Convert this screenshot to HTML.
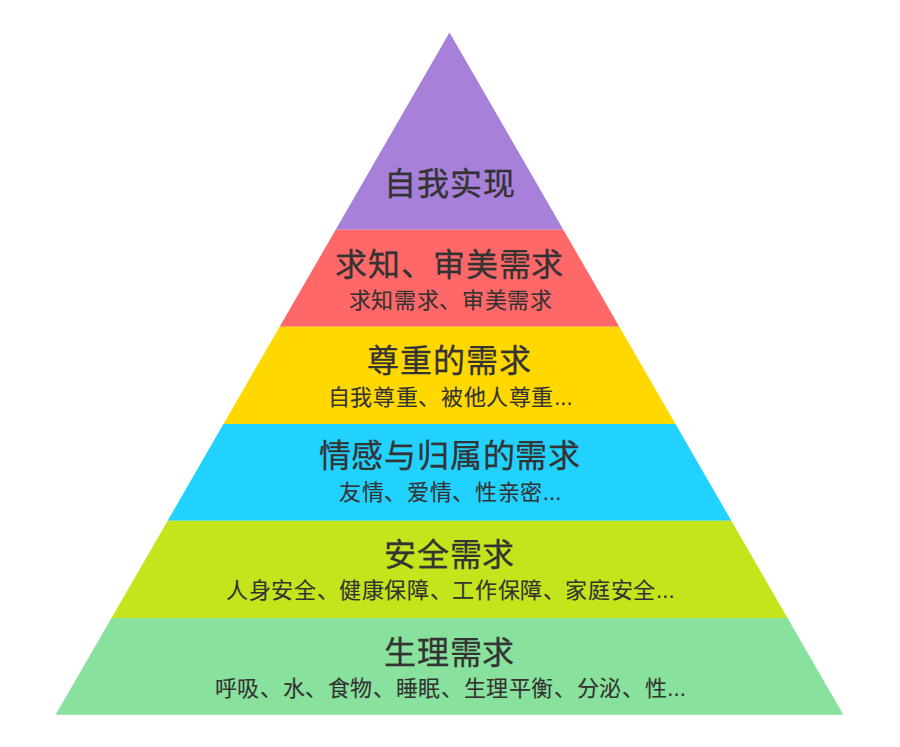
<!DOCTYPE html>
<html lang="zh-CN">
<head>
<meta charset="utf-8">
<style>
html,body{margin:0;padding:0;background:#fff;width:900px;height:747px;overflow:hidden;}
body{position:relative;font-family:"Liberation Sans",sans-serif;color:#333;-webkit-text-stroke:0.35px #333;}
svg{position:absolute;left:0;top:0;}
.t{position:absolute;left:0;width:900px;text-align:center;white-space:nowrap;line-height:1;}
.h{font-size:32px;-webkit-text-stroke:0.3px #333;}
.s{font-size:22px;-webkit-text-stroke:0.12px #333;}
.d{letter-spacing:0.1px;}
</style>
</head>
<body>
<svg width="900" height="747" viewBox="0 0 900 747">
  <polygon points="449.5,32.5 563.35,229.7 335.65,229.7" fill="#a680d9"/>
  <polygon points="335.65,229.7 563.35,229.7 619.36,326.7 279.64,326.7" fill="#ff6868"/>
  <polygon points="279.64,326.7 619.36,326.7 675.53,424 223.47,424" fill="#ffd800"/>
  <polygon points="223.47,424 675.53,424 731.36,520.7 167.64,520.7" fill="#22d2fe"/>
  <polygon points="167.64,520.7 731.36,520.7 787.48,617.9 111.52,617.9" fill="#c4e41c"/>
  <polygon points="111.52,617.9 787.48,617.9 843.37,714.7 55.63,714.7" fill="#88e19c"/>
</svg>
<div class="t h" style="left:-1px;top:168px;letter-spacing:0.87px;padding-left:0.87px">自我实现</div>
<div class="t h" style="left:-1px;top:248.5px;letter-spacing:0.67px;padding-left:0.67px">求知、审美需求</div>
<div class="t s" style="left:0px;top:289.5px;letter-spacing:0.63px;padding-left:0.63px">求知需求、审美需求</div>
<div class="t h" style="left:-1.5px;top:345.3px;letter-spacing:1.0px;padding-left:1.0px">尊重的需求</div>
<div class="t s" style="left:0px;top:386.5px;letter-spacing:0.63px;padding-left:0.3px">自我尊重、被他人尊重<span class="d">...</span></div>
<div class="t h" style="left:-1px;top:440px;letter-spacing:0.77px;padding-left:0.77px">情感与归属的需求</div>
<div class="t s" style="left:0px;top:482px;letter-spacing:0.63px;padding-left:0.3px">友情、爱情、性亲密<span class="d">...</span></div>
<div class="t h" style="left:-1px;top:539px;letter-spacing:0.6px;padding-left:0.6px">安全需求</div>
<div class="t s" style="left:0px;top:580px;letter-spacing:0.63px;padding-left:0.3px">人身安全、健康保障、工作保障、家庭安全<span class="d">...</span></div>
<div class="t h" style="left:-1px;top:637px;letter-spacing:0.6px;padding-left:0.6px">生理需求</div>
<div class="t s" style="left:0px;top:678px;letter-spacing:0.63px;padding-left:0.3px">呼吸、水、食物、睡眠、生理平衡、分泌、性<span class="d">...</span></div>
</body>
</html>
